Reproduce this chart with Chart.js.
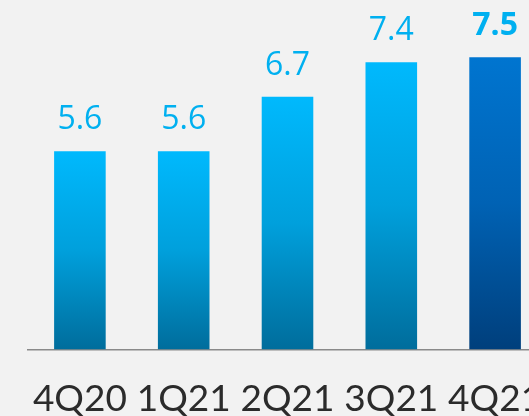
<!DOCTYPE html>
<html>
<head>
<meta charset="utf-8">
<script src="https://cdn.jsdelivr.net/npm/chart.js@4.4.0/dist/chart.umd.min.js"></script>
<style>
  html, body { margin: 0; padding: 0; background: #f2f2f2; overflow: hidden; }
  #wrap { width: 560px; height: 416px; }
</style>
</head>
<body>
<div id="wrap"><canvas id="chart" width="560" height="416"></canvas></div>
<script>
const quarters = ["4Q20", "1Q21", "2Q21", "3Q21", "4Q21"];
const values = [5.6, 5.6, 6.7, 7.4, 7.5];
const highlight = [false, false, false, false, true];

const axisMin = 1.6;
const axisMax = 8.0;

// per-bar vertical gradient, light blue for the history, dark blue for the latest quarter
function barFill(context) {
  const chart = context.chart;
  const yScale = chart.scales.y;
  if (!chart.chartArea || !yScale) return "#00b0f0";
  const i = context.dataIndex;
  const top = yScale.getPixelForValue(values[i]);
  const bottom = yScale.getPixelForValue(axisMin);
  const g = chart.ctx.createLinearGradient(0, top, 0, bottom);
  if (highlight[i]) {
    g.addColorStop(0, "#0075d0");
    g.addColorStop(0.5, "#0062b4");
    g.addColorStop(1, "#003f7c");
  } else {
    g.addColorStop(0, "#00b9fd");
    g.addColorStop(0.5, "#00a0dc");
    g.addColorStop(1, "#006d9c");
  }
  return g;
}

// value labels above each bar
const valueLabels = {
  id: "valueLabels",
  afterDatasetsDraw(chart) {
    const ctx = chart.ctx;
    const meta = chart.getDatasetMeta(0);
    ctx.save();
    ctx.textAlign = "center";
    ctx.textBaseline = "alphabetic";
    ctx.fillStyle = "#00b0f0";
    meta.data.forEach((bar, i) => {
      ctx.font = (highlight[i] ? "bold " : "") + "32px 'Open Sans'";
      ctx.fillText(values[i].toFixed(1), bar.x, bar.y - 22);
    });
    ctx.restore();
  },
};

new Chart(document.getElementById("chart"), {
  type: "bar",
  data: {
    labels: quarters,
    datasets: [
      {
        data: values,
        backgroundColor: barFill,
        borderWidth: 0,
        categoryPercentage: 1,
        barPercentage: 0.497,
      },
    ],
  },
  options: {
    responsive: false,
    animation: false,
    layout: { padding: { left: 28, right: 13, top: 32.5, bottom: 0 } },
    plugins: { legend: { display: false }, tooltip: { enabled: false } },
    scales: {
      x: {
        afterFit(scale) {
          // fixed band under the axis, and no extra room reserved for label overhang
          scale.height = 66.7;
          scale.paddingLeft = 0;
          scale.paddingRight = 0;
        },
        grid: { display: false, drawTicks: false },
        border: { display: true, color: "#8a8a8a", width: 1.5 },
        ticks: {
          color: "#2b2b2b",
          padding: 28,
          font: { family: "Lato", size: 37 },
          maxRotation: 0,
          autoSkip: false,
        },
      },
      y: {
        display: false,
        min: axisMin,
        max: axisMax,
      },
    },
  },
  plugins: [valueLabels],
});
</script>
</body>
</html>
